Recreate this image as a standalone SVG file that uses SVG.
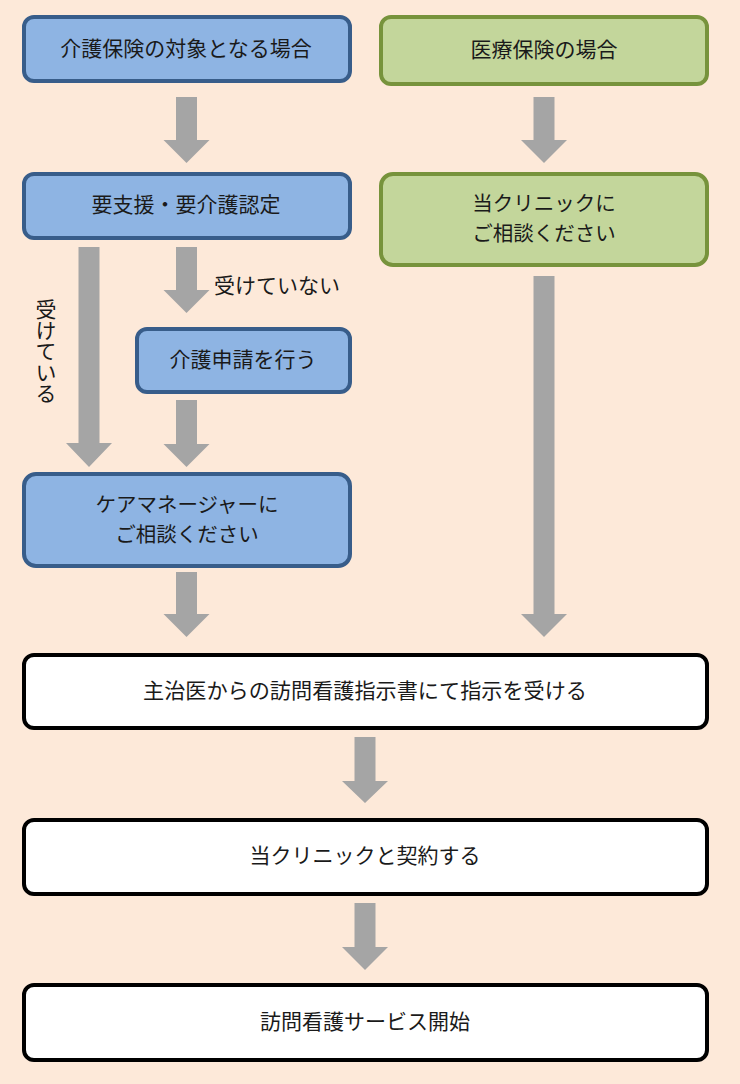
<svg xmlns="http://www.w3.org/2000/svg" width="740" height="1084" viewBox="0 0 740 1084">
<style>
.blue{fill:#8eb4e3;stroke:#385d8a;stroke-width:4}
.green{fill:#c3d69b;stroke:#77933c;stroke-width:4}
.white{fill:#ffffff;stroke:#000000;stroke-width:4}
.arr{fill:#a5a5a5}
text{font-family:"Noto Sans CJK JP","Noto Sans",sans-serif;font-size:21px;fill:#1a1a1a;text-anchor:middle;dominant-baseline:central}
.two{font-size:20.5px}
</style>
<rect width="740" height="1084" fill="#fde9d9"/>
<g id="connectors">
<polygon class="arr" points="176,97 197,97 197,140 209.5,140 186.5,163 163.5,140 176,140"/>
<polygon class="arr" points="533.5,97 554.5,97 554.5,140 567,140 544,163 521,140 533.5,140"/>
<polygon class="arr" points="78.5,247 99.5,247 99.5,443 112,443 89,467 66,443 78.5,443"/>
<polygon class="arr" points="176,247 197,247 197,290 209.5,290 186.5,313 163.5,290 176,290"/>
<polygon class="arr" points="176,400 197,400 197,444 209.5,444 186.5,467 163.5,444 176,444"/>
<polygon class="arr" points="176,572 197,572 197,614 209.5,614 186.5,637 163.5,614 176,614"/>
<polygon class="arr" points="533.5,276 554.5,276 554.5,614 567,614 544,637 521,614 533.5,614"/>
<polygon class="arr" points="354.5,737 375.5,737 375.5,781 388,781 365,803 342,781 354.5,781"/>
<polygon class="arr" points="354.5,903 375.5,903 375.5,947 388,947 365,970 342,947 354.5,947"/>
<text x="277" y="284">受けていない</text>
<text x="46" y="351" style="writing-mode:vertical-rl;dominant-baseline:central">受けている</text>
</g>
<g id="n1"><rect class="blue" x="24" y="17" width="326" height="64" rx="10"/><text x="186" y="47">介護保険の対象となる場合</text></g>
<g id="n2"><rect class="green" x="381" y="17" width="326" height="67" rx="10"/><text x="544" y="48">医療保険の場合</text></g>
<g id="n3"><rect class="blue" x="24" y="174" width="326" height="64" rx="10"/><text x="186" y="203">要支援・要介護認定</text></g>
<g id="n4"><rect class="green" x="381" y="174" width="326" height="91" rx="12"/><text class="two" x="544" y="202"><tspan x="544" y="202">当クリニックに</tspan><tspan x="544" y="232">ご相談ください</tspan></text></g>
<g id="n5"><rect class="blue" x="137" y="329" width="213" height="63" rx="10"/><text x="243" y="358">介護申請を行う</text></g>
<g id="n6"><rect class="blue" x="24" y="474" width="326" height="92" rx="12"/><text class="two" x="187" y="502.5"><tspan x="187" y="502.5">ケアマネージャーに</tspan><tspan x="187" y="532.5">ご相談ください</tspan></text></g>
<g id="n7"><rect class="white" x="24" y="655" width="683" height="73" rx="10"/><text x="365" y="689" textLength="444" lengthAdjust="spacingAndGlyphs">主治医からの訪問看護指示書にて指示を受ける</text></g>
<g id="n8"><rect class="white" x="24" y="820" width="683" height="74" rx="10"/><text x="365" y="854">当クリニックと契約する</text></g>
<g id="n9"><rect class="white" x="24" y="985" width="683" height="75" rx="10"/><text x="365" y="1020">訪問看護サービス開始</text></g>
</svg>
